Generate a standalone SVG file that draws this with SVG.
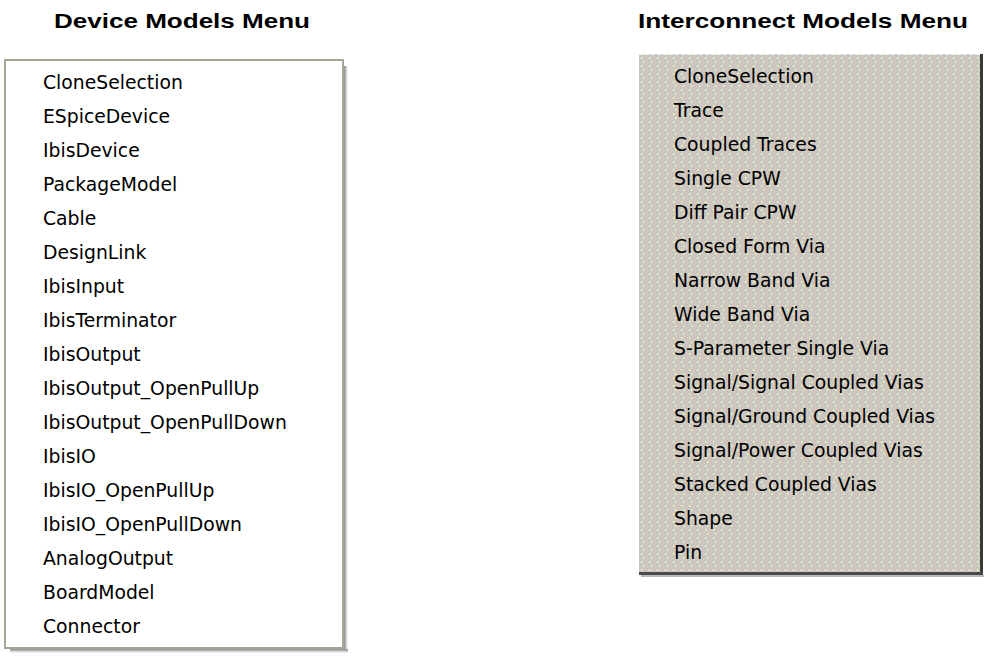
<svg xmlns="http://www.w3.org/2000/svg" width="1002" height="663" viewBox="0 0 1002 663">
<style>
.title{font-family:"Liberation Sans",Arial,sans-serif;font-weight:bold;font-size:20px;fill:#000}
.item{font-family:"DejaVu Sans","Liberation Sans",sans-serif;font-size:18.8px;fill:#000}
</style>
<defs>
<pattern id="dots" width="8" height="8" patternUnits="userSpaceOnUse">
<rect width="8" height="8" fill="#c8c7c2"/>
<rect x="1" y="1" width="1.5" height="2" fill="#efedb2"/>
<rect x="5" y="1" width="1.5" height="2" fill="#e9b8b8"/>
<rect x="3" y="5" width="1.5" height="2" fill="#efedb2"/>
<rect x="7" y="5" width="1" height="2" fill="#e9b8b8"/>
</pattern>
<linearGradient id="shR" x1="0" y1="0" x2="1" y2="0">
<stop offset="0" stop-color="#8a8a8a"/>
<stop offset="1" stop-color="#ffffff"/>
</linearGradient>
<linearGradient id="shB" x1="0" y1="0" x2="0" y2="1">
<stop offset="0" stop-color="#8a8a8a"/>
<stop offset="1" stop-color="#ffffff"/>
</linearGradient>
</defs>
<rect width="1002" height="663" fill="#ffffff"/>

<g id="device-menu">
<text class="title" x="54" y="28" textLength="256" lengthAdjust="spacingAndGlyphs">Device Models Menu</text>
<rect x="344" y="66" width="4" height="586" fill="url(#shR)"/>
<rect x="10" y="649" width="338" height="4" fill="url(#shB)"/>
<rect x="5" y="60" width="338" height="588" fill="#ffffff" stroke="#a6a696" stroke-width="2"/>
<text class="item" x="43" y="89">CloneSelection</text>
<text class="item" x="43" y="123">ESpiceDevice</text>
<text class="item" x="43" y="157">IbisDevice</text>
<text class="item" x="43" y="191">PackageModel</text>
<text class="item" x="43" y="225">Cable</text>
<text class="item" x="43" y="259">DesignLink</text>
<text class="item" x="43" y="293">IbisInput</text>
<text class="item" x="43" y="327">IbisTerminator</text>
<text class="item" x="43" y="361">IbisOutput</text>
<text class="item" x="43" y="395">IbisOutput_OpenPullUp</text>
<text class="item" x="43" y="429">IbisOutput_OpenPullDown</text>
<text class="item" x="43" y="463">IbisIO</text>
<text class="item" x="43" y="497">IbisIO_OpenPullUp</text>
<text class="item" x="43" y="531">IbisIO_OpenPullDown</text>
<text class="item" x="43" y="565">AnalogOutput</text>
<text class="item" x="43" y="599">BoardModel</text>
<text class="item" x="43" y="633">Connector</text>
</g>

<g id="interconnect-menu">
<text class="title" x="638" y="28" textLength="330" lengthAdjust="spacingAndGlyphs">Interconnect Models Menu</text>
<rect x="639" y="54" width="344" height="521" fill="url(#dots)"/>
<line x1="639" y1="54.5" x2="981" y2="54.5" stroke="#f2f2ea" stroke-width="1" stroke-dasharray="4 2"/>
<rect x="980" y="54" width="3" height="521" fill="#3a3a3a"/>
<rect x="639" y="572" width="344" height="3" fill="#4a4a4a"/>
<rect x="641" y="575" width="343" height="2" fill="#b8b8b8"/>
<text class="item" x="674" y="83">CloneSelection</text>
<text class="item" x="674" y="117">Trace</text>
<text class="item" x="674" y="151">Coupled Traces</text>
<text class="item" x="674" y="185">Single CPW</text>
<text class="item" x="674" y="219">Diff Pair CPW</text>
<text class="item" x="674" y="253">Closed Form Via</text>
<text class="item" x="674" y="287">Narrow Band Via</text>
<text class="item" x="674" y="321">Wide Band Via</text>
<text class="item" x="674" y="355">S-Parameter Single Via</text>
<text class="item" x="674" y="389">Signal/Signal Coupled Vias</text>
<text class="item" x="674" y="423">Signal/Ground Coupled Vias</text>
<text class="item" x="674" y="457">Signal/Power Coupled Vias</text>
<text class="item" x="674" y="491">Stacked Coupled Vias</text>
<text class="item" x="674" y="525">Shape</text>
<text class="item" x="674" y="559">Pin</text>
</g>
</svg>
